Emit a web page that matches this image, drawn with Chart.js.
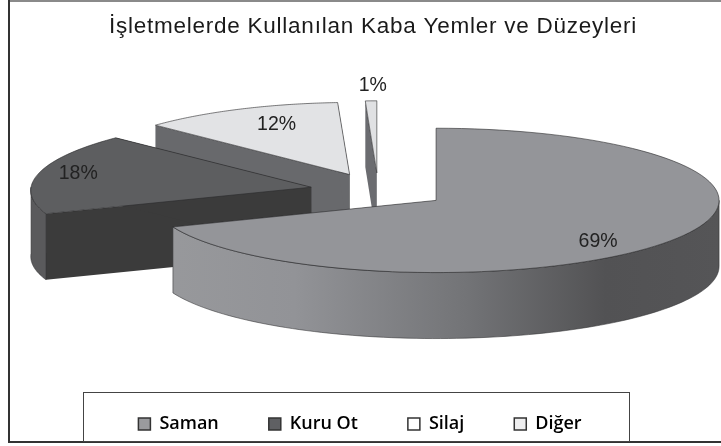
<!DOCTYPE html>
<html lang="tr">
<head>
<meta charset="utf-8">
<style>html,body{margin:0;padding:0;background:#fff}canvas{display:block}</style>
<script src="https://cdn.jsdelivr.net/npm/chart.js@4"></script>
</head>
<body>
<div style="width:721px;height:446px"><canvas id="c" width="721" height="446"></canvas></div>
<script>
const chartTitle = 'İşletmelerde Kullanılan Kaba Yemler ve Düzeyleri';
const categories = ['Saman', 'Kuru Ot', 'Silaj', 'Diğer'];
const shares = [69, 18, 12, 1];
const valueLabels = ['69%', '18%', '12%', '1%'];

const topColors = ['#949599', '#5d5e60', '#e2e3e5', '#e0e1e3'];
const faceColors = ['#8f9094', '#3b3b3b', '#68696c', '#6b6c70'];
const legendFills = ['#9a9b9e', '#5f6063', '#ffffff', '#eeeeef'];
const labelShift = [[162, 41], [-233, -14], [-73, -50], [-4, -87]];
const paintOrder = [2, 3, 1, 0];
// Far slices shrink toward the viewer's vanishing point: x scale and x-per-y lean of each slice.
const sliceXScale = [1, 0.99, 0.958, 0.65];
const sliceLean = [0, -0.177, -0.07, 0];

const SQUASH = 0.255, DEPTH = 66, EXPLODE = 69;

function geometry(arc, i) {
  const p = arc.getProps(['x', 'y', 'startAngle', 'endAngle', 'outerRadius'], true);
  const mid = (p.startAngle + p.endAngle) / 2;
  const ox = Math.cos(mid) * EXPLODE, oy = Math.sin(mid) * EXPLODE * SQUASH;
  return {...p, ox, oy, ax: p.x + ox, ay: p.y + oy, ry: p.outerRadius * SQUASH,
    kx: sliceXScale[i], lean: sliceLean[i]};
}
function rim(g, a) {
  const dx = Math.cos(a) * g.outerRadius, dy = Math.sin(a) * g.ry;
  return [g.ax + g.kx * dx + g.lean * dy, g.ay + dy];
}
function wallGradient(ctx, g, i) {
  const gr = ctx.createLinearGradient(g.ax - g.outerRadius, 0, g.ax + g.outerRadius, 0);
  if (i === 0) {
    gr.addColorStop(0, '#98999c');
    gr.addColorStop(0.25, '#929397');
    gr.addColorStop(0.55, '#737477');
    gr.addColorStop(0.8, '#525254');
    gr.addColorStop(1, '#555557');
  } else {
    gr.addColorStop(0, '#5a5a5c');
    gr.addColorStop(1, '#5a5a5c');
  }
  return gr;
}
function drawFace(ctx, g, a, color) {
  const [x, y] = rim(g, a);
  ctx.beginPath();
  ctx.moveTo(g.ax, g.ay);
  ctx.lineTo(x, y);
  ctx.lineTo(x, y + DEPTH);
  ctx.lineTo(g.ax, g.ay + DEPTH);
  ctx.closePath();
  ctx.fillStyle = color;
  ctx.fill();
}
function traceRim(ctx, g, a0, a1, dy, first) {
  const steps = 96;
  for (let s = 0; s <= steps; s++) {
    const [x, y] = rim(g, a0 + (a1 - a0) * s / steps);
    if (first && s === 0) ctx.moveTo(x, y + dy); else ctx.lineTo(x, y + dy);
  }
}
function drawOuterWall(ctx, g, i) {
  // Only the part of the rim on the near side (canvas angles 0..PI, modulo a turn) is visible.
  const ranges = [[0, Math.PI], [2 * Math.PI, 3 * Math.PI]];
  for (const [lo, hi] of ranges) {
    const a0 = Math.max(g.startAngle, lo), a1 = Math.min(g.endAngle, hi);
    if (a1 <= a0) continue;
    ctx.beginPath();
    traceRim(ctx, g, a0, a1, 0, true);
    traceRim(ctx, g, a1, a0, DEPTH, false);
    ctx.closePath();
    ctx.fillStyle = wallGradient(ctx, g, i);
    ctx.fill();
    ctx.strokeStyle = 'rgba(50,50,52,0.7)';
    ctx.lineWidth = 0.8;
    ctx.stroke();
  }
}
function drawOutline(ctx, g) {
  ctx.beginPath();
  ctx.moveTo(g.ax, g.ay);
  traceRim(ctx, g, g.startAngle, g.endAngle, 0, false);
  ctx.closePath();
  ctx.strokeStyle = 'rgba(40,40,42,0.75)';
  ctx.lineWidth = 0.8;
  ctx.stroke();
}

const pie3d = {
  id: 'pie3d',
  beforeDraw(chart) {
    const ctx = chart.ctx;
    ctx.save();
    ctx.fillStyle = '#ffffff';
    ctx.fillRect(0, 0, chart.width, chart.height);
    ctx.fillStyle = '#8a8a8a';
    ctx.fillRect(8, 0, chart.width - 8, 2);
    ctx.fillStyle = '#333333';
    ctx.fillRect(8, 0, 2, 443);
    ctx.fillRect(8, 441, chart.width - 8, 2);
    ctx.strokeStyle = '#444444';
    ctx.lineWidth = 1;
    ctx.strokeRect(83.5, 392.5, 546, 49);
    ctx.restore();
  },
  afterLayout(chart) {
    // Title and legend sit on their own centres, not on the pie's.
    const t = chart.titleBlock, l = chart.legend;
    t.left -= 6; t.right -= 6;
    if (!t._spaced) {
      const drawTitle = t.draw;
      t.draw = function () {
        this.ctx.letterSpacing = '0.75px';
        drawTitle.apply(this, arguments);
        this.ctx.letterSpacing = '0px';
      };
      t._spaced = true;
    }
    const shift = 19;
    l.left -= shift; l.right -= shift;
    const h = l.bottom - l.top;
    l.top = 424 - 9 - l.options.labels.padding;
    l.bottom = l.top + h;
  },
  beforeDatasetDraw(chart, args) {
    const ctx = chart.ctx;
    const arcs = args.meta.data;
    for (const i of paintOrder) {
      const g = geometry(arcs[i], i);
      ctx.save();
      drawFace(ctx, g, g.startAngle, faceColors[i]);
      drawFace(ctx, g, g.endAngle, faceColors[i]);
      drawOuterWall(ctx, g, i);
      ctx.restore();
      ctx.save();
      ctx.translate(g.ax, g.ay);
      ctx.transform(g.kx, 0, g.lean, 1, 0, 0);
      ctx.scale(1, SQUASH);
      ctx.translate(-g.x, -g.y);
      arcs[i].draw(ctx);
      ctx.restore();
      ctx.save();
      drawOutline(ctx, g);
      ctx.restore();
    }
    ctx.save();
    ctx.font = '19.5px "Liberation Sans"';
    ctx.fillStyle = '#222222';
    ctx.textAlign = 'center';
    ctx.textBaseline = 'middle';
    arcs.forEach((arc, i) => {
      const g = geometry(arc, i);
      ctx.fillText(valueLabels[i], g.ax + labelShift[i][0], g.ay + labelShift[i][1]);
    });
    ctx.restore();
    return false;
  }
};

new Chart(document.getElementById('c'), {
  type: 'pie',
  data: {
    labels: categories,
    datasets: [{
      data: shares,
      backgroundColor: topColors,
      borderWidth: 0,
      radius: 283
    }]
  },
  plugins: [pie3d],
  options: {
    responsive: false,
    animation: false,
    devicePixelRatio: 1,
    layout: {padding: {left: 37, bottom: 35}},
    plugins: {
      tooltip: {enabled: false},
      title: {
        display: true,
        text: chartTitle,
        color: '#1a1a1a',
        font: {family: '"Liberation Sans"', size: 22.5, weight: 'normal'},
        padding: {top: 13, bottom: 8}
      },
      legend: {
        position: 'bottom',
        labels: {
          padding: 50,
          boxWidth: 12,
          boxHeight: 12,
          color: '#2a2a2a',
          font: {family: '"Open Sans"', size: 18, weight: '600'},
          generateLabels: () => categories.map((name, i) => ({
            text: name,
            fillStyle: legendFills[i],
            strokeStyle: '#333333',
            lineWidth: 1.5,
            datasetIndex: 0,
            index: i
          }))
        }
      }
    }
  }
});
</script>
</body>
</html>
